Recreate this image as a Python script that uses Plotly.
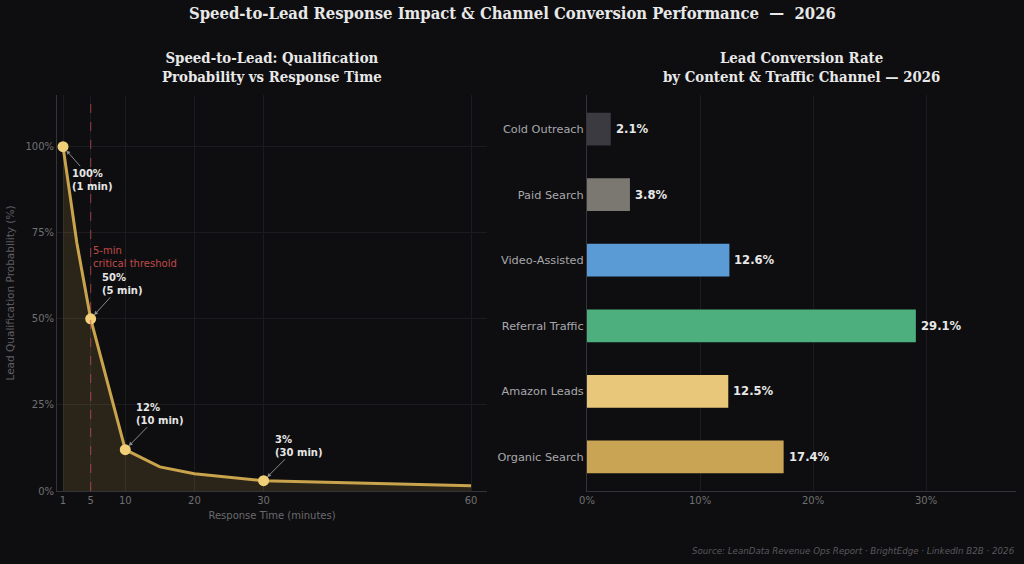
import plotly.graph_objects as go

# ---- data ----
resp_minutes = [1, 3, 5, 10, 15, 20, 30, 60]
qual_prob = [100, 72, 50, 12, 7, 5, 3, 1.5]
key_minutes = [1, 5, 10, 30]
key_prob = [100, 50, 12, 3]
key_labels = ["100%<br>(1 min)", "50%<br>(5 min)", "12%<br>(10 min)", "3%<br>(30 min)"]
key_offsets = [(29, 33), (32, -35), (35, -36), (35, -35)]

channels = ["Organic Search", "Amazon Leads", "Referral Traffic", "Video-Assisted", "Paid Search", "Cold Outreach"]
conv_rate = [17.4, 12.5, 29.1, 12.6, 3.8, 2.1]
bar_colors = ["#c9a455", "#e8c77a", "#4caf7d", "#5b9bd5", "#7a7870", "#3a3a40"]

left_yticks = [0, 25, 50, 75, 100]
left_xticks = [1, 5, 10, 20, 30, 60]
right_xticks = [0, 10, 20, 30]

BG = "#0e0e10"
GRID = "#1c1c20"
SPINE = "#34343a"
TICK = "#707072"

fig = go.Figure()

fig.add_trace(go.Scatter(
    x=resp_minutes, y=qual_prob, mode="lines",
    line=dict(color="#c9a44c", width=3),
    fill="tozeroy", fillcolor="rgba(201,164,76,0.16)",
    xaxis="x", yaxis="y", showlegend=False, hoverinfo="skip"))
fig.add_trace(go.Scatter(
    x=key_minutes, y=key_prob, mode="markers",
    marker=dict(color="#f0cf78", size=11),
    xaxis="x", yaxis="y", showlegend=False))

fig.add_trace(go.Bar(
    y=channels, x=conv_rate, orientation="h", width=0.5,
    marker=dict(color=bar_colors, line=dict(width=0)),
    xaxis="x2", yaxis="y2", showlegend=False))

ydom = [1 - 491 / 564, 1 - 95 / 564]
fig.update_layout(
    width=1024, height=564,
    margin=dict(l=0, r=0, t=0, b=0, autoexpand=False),
    paper_bgcolor=BG, plot_bgcolor=BG,
    font=dict(family="DejaVu Sans", color=TICK, size=10),
    xaxis=dict(domain=[57 / 1024, 487 / 1024], range=[0.13, 62.3], automargin=False,
               tickmode="array", tickvals=left_xticks, ticktext=[str(v) for v in left_xticks],
               showgrid=True, gridcolor=GRID,
               zeroline=False, showline=True, linecolor=SPINE, ticks="",
               tickfont=dict(size=10, color=TICK),
               title=dict(text="Response Time (minutes)", font=dict(size=10, color="#6a6a6e"), standoff=6)),
    yaxis=dict(domain=ydom, range=[0, 115], automargin=False, tickmode="array", tickvals=left_yticks,
               ticktext=[f"{v}%" for v in left_yticks], showgrid=True, gridcolor=GRID, zeroline=False,
               showline=True, linecolor=SPINE, ticks="",
               tickfont=dict(size=10, color=TICK),
               title=dict(text="Lead Qualification Probability (%)", font=dict(size=10.5, color="#5f5f63"), standoff=8)),
    xaxis2=dict(domain=[587 / 1024, 1016 / 1024], range=[0, 37.96], anchor="y2", automargin=False,
                tickmode="array", tickvals=right_xticks, ticktext=[f"{v}%" for v in right_xticks],
                showgrid=True, gridcolor=GRID,
                zeroline=False, showline=True, linecolor=SPINE, ticks="",
                tickfont=dict(size=10, color=TICK)),
    yaxis2=dict(domain=ydom, anchor="x2", range=[-0.52, 5.52], showgrid=False, automargin=False,
                showline=True, linecolor=SPINE, ticks="",
                tickfont=dict(size=11.3, color="#a8a8ac"), categoryorder="array", categoryarray=channels),
)

# value labels on bars
for ch, v in zip(channels, conv_rate):
    fig.add_annotation(x=v, y=ch, xref="x2", yref="y2", text=f"<b>{v:.1f}%</b>",
                       showarrow=False, xanchor="left", yanchor="middle", xshift=3,
                       font=dict(size=11.6, color="#e8e8e8"))

fig.add_shape(type="line", x0=5, x1=5, y0=0, y1=115, xref="x", yref="y",
              line=dict(color="rgba(200,80,80,0.6)", width=1.2, dash="dash"))
fig.add_annotation(x=5, y=68, xref="x", yref="y", text="5-min<br>critical threshold",
                   showarrow=False, xanchor="left", yanchor="middle", xshift=0, align="left",
                   font=dict(size=10, color="#c04a4a"))

for mx, my, lab, (ox, oy) in zip(key_minutes, key_prob, key_labels, key_offsets):
    fig.add_annotation(x=mx, y=my, xref="x", yref="y", text=f"<b>{lab}</b>",
                       showarrow=True, ax=ox, ay=oy, arrowhead=2, arrowsize=0.8, arrowwidth=1,
                       arrowcolor="#8a8a8e", standoff=5, align="left",
                       font=dict(size=10, color="#e6e6e6"))

SERIF = "DejaVu Serif Condensed, DejaVu Serif"
fig.add_annotation(x=0.5, y=1 - 14 / 564, xref="paper", yref="paper",
                   text="<b>Speed-to-Lead Response Impact &amp; Channel Conversion Performance  —  2026</b>",
                   showarrow=False, font=dict(family=SERIF, size=16.5, color="#e8e8e8"),
                   xanchor="center", yanchor="middle")
fig.add_annotation(x=(57 + 487) / 2 / 1024, y=1 - 67.5 / 564, xref="paper", yref="paper",
                   text="<b>Speed-to-Lead: Qualification<br>Probability vs Response Time</b>",
                   showarrow=False, font=dict(family=SERIF, size=14.8, color="#e8e8e8"),
                   xanchor="center", yanchor="middle")
fig.add_annotation(x=(587 + 1015) / 2 / 1024, y=1 - 67.5 / 564, xref="paper", yref="paper",
                   text="<b>Lead Conversion Rate<br>by Content &amp; Traffic Channel — 2026</b>",
                   showarrow=False, font=dict(family=SERIF, size=14.8, color="#e8e8e8"),
                   xanchor="center", yanchor="middle")
fig.add_annotation(x=1017 / 1024, y=1 - 551 / 564, xref="paper", yref="paper",
                   text="<i>Source: LeanData Revenue Ops Report · BrightEdge · LinkedIn B2B · 2026</i>",
                   showarrow=False, font=dict(size=8.7, color="#58585c"),
                   xanchor="right", yanchor="middle")

fig.write_html("out.html")
